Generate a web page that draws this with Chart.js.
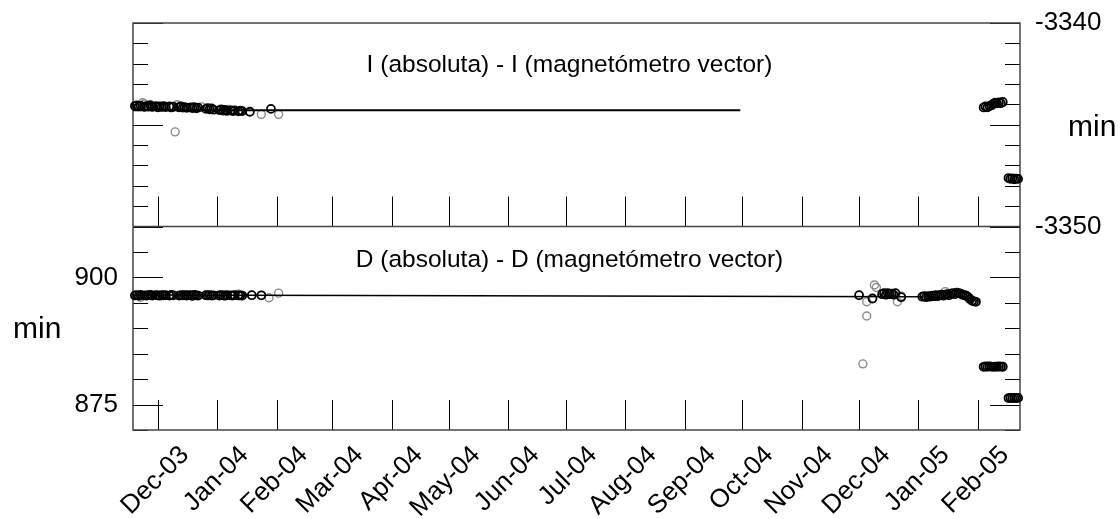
<!DOCTYPE html>
<html>
<head>
<meta charset="utf-8">
<script src="https://cdn.jsdelivr.net/npm/chart.js@4.4.1/dist/chart.umd.min.js"></script>
<style>
html,body{margin:0;padding:0;background:#fff;overflow:hidden}
#wrap{position:relative;width:1120px;height:519px}
</style>
</head>
<body>
<div id="wrap"><canvas id="c" width="1120" height="519"></canvas></div>
<script>
// ---------------- data ----------------
const iTitle = 'I (absoluta) - I (magnetómetro vector)';
const dTitle = 'D (absoluta) - D (magnetómetro vector)';
const unitLabel = 'min';

const xRange = ['2003-11-18', '2005-02-23'];
const monthTicks = ['2003-12-01','2004-01-01','2004-02-01','2004-03-01','2004-04-01','2004-05-01','2004-06-01',
  '2004-07-01','2004-08-01','2004-09-01','2004-10-01','2004-11-01','2004-12-01','2005-01-01','2005-02-01'];
const monthLabels = ['Dec-03','Jan-04','Feb-04','Mar-04','Apr-04','May-04','Jun-04',
  'Jul-04','Aug-04','Sep-04','Oct-04','Nov-04','Dec-04','Jan-05','Feb-05'];

const iRange = [-3350, -3340];
const iTickLabels = [-3340, -3350];
const iMajorTicks = [-3340, -3345, -3350];
const dRange = [870, 910];
const dTickLabels = [875, 900];
const dMajorTicks = [875, 900];

// I (absoluta) - I (magnetómetro vector)
const iLineDates = ['2003-11-18', '2004-09-30'];
const iLineValues = [-3344.29, -3344.29];
const iBlackDates = [
 '2003-11-19','2003-11-20','2003-11-21','2003-11-22','2003-11-24','2003-11-25','2003-11-26','2003-11-27','2003-11-28','2003-11-30',
 '2003-12-01','2003-12-02','2003-12-03','2003-12-04','2003-12-05','2003-12-07','2003-12-08','2003-12-09','2003-12-12','2003-12-13',
 '2003-12-14','2003-12-15','2003-12-16','2003-12-18','2003-12-19','2003-12-20','2003-12-21','2003-12-22','2003-12-26','2003-12-27',
 '2003-12-28','2003-12-29','2003-12-30','2004-01-02','2004-01-03','2004-01-04','2004-01-05','2004-01-06','2004-01-08','2004-01-09',
 '2004-01-10','2004-01-12','2004-01-13','2004-01-14','2004-01-18','2004-01-29',
 '2005-02-04','2005-02-05','2005-02-06','2005-02-07','2005-02-08','2005-02-09','2005-02-10','2005-02-11','2005-02-12','2005-02-13','2005-02-14',
 '2005-02-17','2005-02-18','2005-02-19','2005-02-20','2005-02-21','2005-02-22'];
const iBlackValues = [
 -3344.08,-3344.05,-3344.10,-3344.06,-3344.12,-3344.08,-3344.10,-3344.04,-3344.12,-3344.09,
 -3344.14,-3344.10,-3344.12,-3344.08,-3344.13,-3344.10,-3344.15,-3344.11,-3344.14,-3344.10,
 -3344.16,-3344.13,-3344.17,-3344.15,-3344.18,-3344.14,-3344.19,-3344.16,-3344.22,-3344.18,
 -3344.24,-3344.20,-3344.26,-3344.28,-3344.25,-3344.30,-3344.27,-3344.32,-3344.29,-3344.33,
 -3344.30,-3344.34,-3344.31,-3344.33,-3344.36,-3344.22,
 -3344.15,-3344.10,-3344.14,-3344.08,-3344.05,-3343.98,-3343.92,-3343.95,-3343.90,-3343.94,-3343.88,
 -3347.62,-3347.66,-3347.64,-3347.68,-3347.65,-3347.66];
const iGrayDates = ['2003-11-23','2003-11-24','2003-12-10','2003-12-11','2003-12-24','2004-01-07','2004-01-24','2004-02-02'];
const iGrayValues = [-3343.92,-3343.98,-3345.35,-3344.02,-3344.12,-3344.25,-3344.49,-3344.49];

// D (absoluta) - D (magnetómetro vector)
const dLineDates = ['2003-11-18', '2005-01-03'];
const dLineValues = [896.55, 896.2];
const dBlackDates = [
 '2003-11-19','2003-11-20','2003-11-21','2003-11-22','2003-11-24','2003-11-25','2003-11-26','2003-11-27','2003-11-28','2003-11-30',
 '2003-12-01','2003-12-02','2003-12-03','2003-12-04','2003-12-05','2003-12-07','2003-12-08','2003-12-09','2003-12-12','2003-12-13',
 '2003-12-14','2003-12-15','2003-12-16','2003-12-18','2003-12-19','2003-12-20','2003-12-21','2003-12-22','2003-12-26','2003-12-27',
 '2003-12-28','2003-12-29','2003-12-30','2004-01-02','2004-01-03','2004-01-04','2004-01-05','2004-01-06','2004-01-08','2004-01-09',
 '2004-01-10','2004-01-12','2004-01-13','2004-01-14','2004-01-19','2004-01-24',
 '2004-12-01','2004-12-08','2004-12-13','2004-12-14','2004-12-15','2004-12-16','2004-12-17','2004-12-18','2004-12-19','2004-12-20','2004-12-23',
 '2005-01-03','2005-01-04','2005-01-05','2005-01-06','2005-01-07','2005-01-08','2005-01-09','2005-01-10','2005-01-11','2005-01-12',
 '2005-01-13','2005-01-14','2005-01-15','2005-01-16','2005-01-17','2005-01-18','2005-01-19','2005-01-20','2005-01-21','2005-01-22',
 '2005-01-23','2005-01-24','2005-01-25','2005-01-26','2005-01-27','2005-01-28','2005-01-29','2005-01-30','2005-01-31',
 '2005-02-04','2005-02-05','2005-02-06','2005-02-07','2005-02-08','2005-02-09','2005-02-10','2005-02-11','2005-02-12','2005-02-13','2005-02-14',
 '2005-02-17','2005-02-18','2005-02-19','2005-02-20','2005-02-21','2005-02-22'];
const dBlackValues = [
 896.45,896.52,896.40,896.55,896.48,896.42,896.50,896.56,896.44,896.50,
 896.47,896.40,896.53,896.46,896.50,896.43,896.55,896.48,896.41,896.50,
 896.46,896.52,896.44,896.49,896.40,896.54,896.47,896.43,896.50,896.45,
 896.52,896.41,896.48,896.44,896.53,896.46,896.40,896.51,896.47,896.43,
 896.50,896.45,896.48,896.42,896.50,896.48,
 896.5,895.85,896.7,896.9,896.6,896.9,896.7,896.8,896.6,896.9,896.1,
 896.2,896.3,896.1,896.3,896.2,896.4,896.3,896.5,896.3,896.5,
 896.6,896.4,896.6,896.7,896.5,896.8,896.9,896.7,897.0,896.9,
 896.8,896.6,896.5,896.4,896.1,895.7,895.4,895.3,895.2,
 882.42,882.48,882.44,882.50,882.46,882.42,882.47,882.44,882.49,882.45,882.43,
 876.28,876.32,876.26,876.30,876.27,876.31];
const dGrayDates = ['2003-11-22','2003-12-17','2003-12-19','2004-01-12','2004-01-28','2004-02-02',
 '2004-12-03','2004-12-05','2004-12-05','2004-12-09','2004-12-10','2004-12-21','2004-12-23','2005-01-15'];
const dGrayValues = [896.1,896.6,896.3,896.7,896.0,896.9,
 883.0,895.2,892.4,898.5,898.0,895.2,896.3,897.2];

// ---------------- helpers ----------------
const FONT = "'Liberation Sans', Arial, Helvetica, sans-serif";
const DAY0 = Date.UTC(2003, 11, 1);
function day(s) { const [y, m, d] = s.split('-').map(Number); return (Date.UTC(y, m - 1, d) - DAY0) / 864e5; }
function pts(dates, values) { return dates.map((d, i) => ({x: day(d), y: values[i]})); }
const has = (arr, v) => arr.some(a => Math.abs(a - v) < 1e-6);

const BLACK = '#000000', GRAY = '#8a8a8a';

const framePlugin = {
  id: 'frame',
  beforeDatasetsDraw(chart) {
    const {ctx, chartArea: a, scales: s} = chart;
    ctx.save();
    const seg = (x1, y1, x2, y2) => { ctx.beginPath(); ctx.moveTo(x1, y1); ctx.lineTo(x2, y2); ctx.stroke(); };
    ctx.strokeStyle = '#000'; ctx.lineWidth = 1;
    for (const p of [s.yIl, s.yD]) {
      for (const t of s.x.ticks) {
        const x = Math.round(s.x.getPixelForValue(t.value)) + 0.5;
        seg(x, p.bottom, x, p.bottom - 30);
      }
    }
    const yTicks = (sc, majors, side) => {
      for (const t of sc.ticks) {
        const y = Math.round(sc.getPixelForValue(t.value)) + 0.5;
        const len = has(majors, t.value) ? 30 : 15;
        if (side === 'l') seg(a.left, y, a.left + len, y);
        else seg(a.right - len, y, a.right, y);
      }
    };
    yTicks(s.yIl, iMajorTicks, 'l'); yTicks(s.yIr, iMajorTicks, 'r');
    yTicks(s.yD, dMajorTicks, 'l'); yTicks(s.yDr, dMajorTicks, 'r');
    ctx.strokeStyle = '#444'; ctx.lineWidth = 1.5;
    ctx.strokeRect(a.left, a.top, a.right - a.left, a.bottom - a.top);
    seg(a.left, s.yIl.bottom, a.right, s.yIl.bottom);

    ctx.fillStyle = '#000';
    ctx.textBaseline = 'alphabetic';
    ctx.font = '24.5px ' + FONT;
    ctx.textAlign = 'center';
    const cx = (a.left + a.right) / 2 - 7;
    ctx.fillText(iTitle, cx, s.yIl.top + 49);
    ctx.fillText(dTitle, cx, s.yD.top + 40);
    ctx.font = '30px ' + FONT;
    ctx.textAlign = 'left';
    ctx.fillText(unitLabel, 13, (s.yD.top + s.yD.bottom) / 2 + 10);
    ctx.fillText(unitLabel, a.right + 48, (s.yIr.top + s.yIr.bottom) / 2 + 11);
    ctx.restore();
  }
};

const noPad = sc => { sc.paddingTop = 0; sc.paddingBottom = 0; };
const fitLeft = sc => { sc.width = 133; noPad(sc); };
const fitRight = sc => { sc.width = 100; noPad(sc); };

const hiddenY = (range, stack, step, position, fit) => ({
  type: 'linear', position: position, min: range[0], max: range[1], stack: stack, stackWeight: 1,
  grid: {display: false, drawTicks: false}, border: {display: false}, afterFit: fit,
  ticks: {display: false, autoSkip: false, stepSize: step}
});

new Chart(document.getElementById('c'), {
  type: 'scatter',
  data: {
    datasets: [
      {label: 'I', data: pts(iLineDates, iLineValues), yAxisID: 'yIr', showLine: true, pointRadius: 0,
       borderColor: BLACK, borderWidth: 2, order: 1, clip: false},
      {label: 'I black', data: pts(iBlackDates, iBlackValues), yAxisID: 'yIr', pointRadius: 4,
       pointBorderWidth: 1.8, pointBorderColor: BLACK, pointBackgroundColor: 'rgba(0,0,0,0)', order: 0, clip: false},
      {label: 'I gray', data: pts(iGrayDates, iGrayValues), yAxisID: 'yIr', pointRadius: 4,
       pointBorderWidth: 1.4, pointBorderColor: GRAY, pointBackgroundColor: 'rgba(0,0,0,0)', order: 2, clip: false},
      {label: 'D', data: pts(dLineDates, dLineValues), yAxisID: 'yD', showLine: true, pointRadius: 0,
       borderColor: BLACK, borderWidth: 1.6, order: 1, clip: false},
      {label: 'D black', data: pts(dBlackDates, dBlackValues), yAxisID: 'yD', pointRadius: 4,
       pointBorderWidth: 1.8, pointBorderColor: BLACK, pointBackgroundColor: 'rgba(0,0,0,0)', order: 0, clip: false},
      {label: 'D gray', data: pts(dGrayDates, dGrayValues), yAxisID: 'yD', pointRadius: 4,
       pointBorderWidth: 1.4, pointBorderColor: GRAY, pointBackgroundColor: 'rgba(0,0,0,0)', order: 2, clip: false}
    ]
  },
  options: {
    responsive: false,
    animation: false,
    events: [],
    layout: {padding: {top: 23, left: 0, right: 0, bottom: 0}},
    plugins: {legend: {display: false}, tooltip: {enabled: false}, title: {display: false}},
    scales: {
      x: {
        type: 'linear', position: 'bottom', min: day(xRange[0]), max: day(xRange[1]),
        grid: {display: false, drawTicks: false}, border: {display: false},
        afterBuildTicks: sc => { sc.ticks = monthTicks.map(d => ({value: day(d)})); },
        afterFit: sc => { sc.height = 89; sc.paddingLeft = 0; sc.paddingRight = 0; },
        ticks: {
          autoSkip: false, minRotation: 45, maxRotation: 45, padding: 10, labelOffset: 27,
          color: '#000', font: {family: FONT, size: 26},
          callback: (v, i) => monthLabels[i]
        }
      },
      yIr: {
        type: 'linear', position: 'right', min: iRange[0], max: iRange[1], stack: 'R', stackWeight: 1,
        grid: {display: false, drawTicks: false}, border: {display: false},
        afterFit: fitRight,
        ticks: {stepSize: 1, autoSkip: false, padding: 15, color: '#000', font: {family: FONT, size: 26},
          callback: v => has(iTickLabels, v) ? String(v) : ''}
      },
      yDr: hiddenY(dRange, 'R', 5, 'right', fitRight),
      yD: {
        type: 'linear', position: 'left', min: dRange[0], max: dRange[1], stack: 'L', stackWeight: 1,
        grid: {display: false, drawTicks: false}, border: {display: false},
        afterFit: fitLeft,
        ticks: {stepSize: 5, autoSkip: false, padding: 15, color: '#000', font: {family: FONT, size: 26},
          callback: v => has(dTickLabels, v) ? String(v) : ''}
      },
      yIl: hiddenY(iRange, 'L', 1, 'left', fitLeft)
    }
  },
  plugins: [framePlugin]
});
</script>
</body>
</html>
